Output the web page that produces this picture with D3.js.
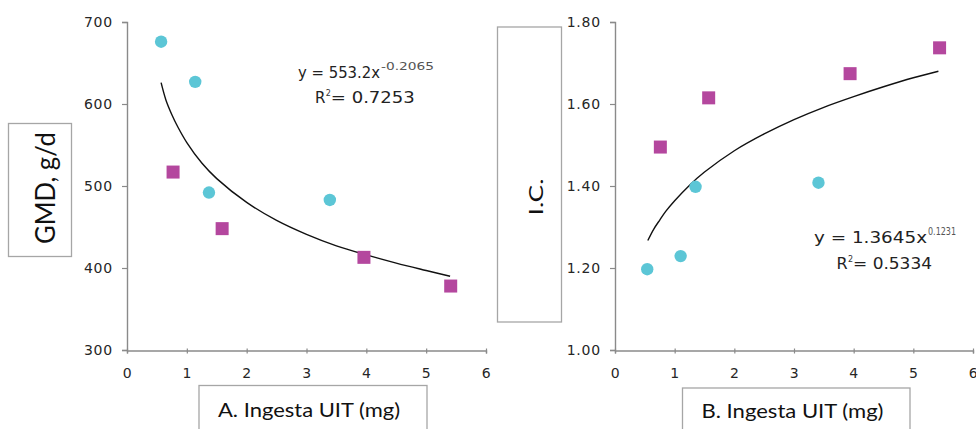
<!DOCTYPE html>
<html>
<head>
<meta charset="utf-8">
<script src="https://cdn.jsdelivr.net/npm/d3@7"></script>
<style>
  html, body { margin: 0; padding: 0; background: #fff; }
  svg { display: block; }
  .tk text { font-family: "DejaVu Sans", sans-serif; font-size: 14px; letter-spacing: 0.8px; fill: #262626; }
</style>
</head>
<body>
<svg id="chart" width="976" height="429"></svg>
<script>
// ---------- data ----------
const xTicks = [0, 1, 2, 3, 4, 5, 6];
const gmdTicks = [300, 400, 500, 600, 700];
const icTicks = [1.0, 1.2, 1.4, 1.6, 1.8];

// Panel A: GMD (g/d) vs UIT intake (mg)
const circleDoseA = [0.57, 1.14, 1.37, 3.39];
const circleGMD   = [676, 627, 492, 483];
const squareDoseA = [0.77, 1.59, 3.96, 5.41];
const squareGMD   = [517, 448, 413, 378];
const trendDoseA  = [0.57, 0.65, 0.75, 0.85, 1, 1.25, 1.5, 2, 2.5, 3, 3.5, 4, 4.5, 5, 5.4];
const trendGMD    = [626, 605, 587, 572, 553, 528, 509, 480, 458, 441, 427, 416, 406, 397, 390];

// Panel B: I.C. vs UIT intake (mg)
const circleDoseB = [0.54, 1.10, 1.35, 3.41];
const circleIC    = [1.197, 1.229, 1.398, 1.408];
const squareDoseB = [0.76, 1.57, 3.94, 5.44];
const squareIC    = [1.495, 1.615, 1.674, 1.737];
const trendDoseB  = [0.55, 0.65, 0.75, 0.85, 1, 1.25, 1.5, 2, 2.5, 3, 3.5, 4, 4.5, 5, 5.42];
const trendIC     = [1.267, 1.295, 1.317, 1.338, 1.364, 1.402, 1.434, 1.486, 1.527, 1.562, 1.592, 1.618, 1.642, 1.664, 1.680];

const eqA = { main: "y = 553.2x", sup: "-0.2065", r: "R", r2: "2", rval: "= 0.7253" };
const eqB = { main: "y = 1.3645x", sup: "0.1231", r: "R", r2: "2", rval: "= 0.5334" };
const yLabelA = "GMD, g/d", xLabelA = "A. Ingesta UIT (mg)";
const yLabelB = "I.C.", xLabelB = "B. Ingesta UIT (mg)";

// ---------- drawing ----------
const svg = d3.select("#chart");
const CYAN = "#5cc6d6", MAGENTA = "#b4479e", AXIS = "#8a8a8a", BOX = "#a6a6a6";
const tickFont = "DejaVu Sans, sans-serif";
const labelFont = "Lato, Open Sans, sans-serif";

function panel(o) {
  const x = d3.scaleLinear().domain([0, 6]).range(o.xRange);
  const y = d3.scaleLinear().domain(o.yDomain).range([350, 22]);
  const g = svg.append("g");

  // y axis
  const ya = g.append("g").attr("class", "tk").attr("transform", `translate(${o.xRange[0]},0)`)
    .call(d3.axisLeft(y).tickValues(o.yTicks).tickSize(5).tickPadding(9).tickFormat(o.yFmt));
  // x axis
  const xa = g.append("g").attr("class", "tk").attr("transform", `translate(0,350.5)`)
    .call(d3.axisBottom(x).tickValues(xTicks).tickSize(3).tickPadding(15).tickFormat(d3.format("d")));
  [ya, xa].forEach(a => {
    a.attr("font-family", tickFont).attr("font-size", 14);
    a.select(".domain").attr("stroke", AXIS).attr("stroke-width", 1.4);
    a.selectAll(".tick line").attr("stroke", AXIS).attr("stroke-width", 1.2);
  });
  xa.selectAll(".tick line").attr("y1", -2);

  // trend line
  const line = d3.line().x(d => x(d[0])).y(d => y(d[1])).curve(d3.curveCatmullRom);
  g.append("path").datum(d3.zip(o.trendX, o.trendY))
    .attr("d", line).attr("fill", "none").attr("stroke", "#111").attr("stroke-width", 1.4);

  // circles
  g.selectAll("circle.pt").data(d3.zip(o.cx, o.cy)).join("circle")
    .attr("class", "pt").attr("cx", d => x(d[0])).attr("cy", d => y(d[1]))
    .attr("r", 6.2).attr("fill", CYAN);
  // squares
  g.selectAll("rect.pt").data(d3.zip(o.sx, o.sy)).join("rect")
    .attr("class", "pt").attr("x", d => x(d[0]) - 6.5).attr("y", d => y(d[1]) - 6.5)
    .attr("width", 13).attr("height", 13).attr("fill", MAGENTA);

  // equation
  const e = o.eq;
  g.append("text").attr("x", o.eqPos.x).attr("y", o.eqPos.y)
    .attr("font-family", tickFont).attr("font-size", o.eqSize).attr("fill", "#222")
    .attr("textLength", o.eqPos.w).attr("lengthAdjust", "spacingAndGlyphs").text(e.main);
  g.append("text").attr("x", o.eqPos.x + o.eqPos.w + 1).attr("y", o.eqPos.y - 8)
    .attr("font-family", tickFont).attr("font-size", 10).attr("fill", "#555")
    .attr("textLength", o.eqPos.sw).attr("lengthAdjust", "spacingAndGlyphs").text(e.sup);
  g.append("text").attr("x", o.rPos.x).attr("y", o.rPos.y)
    .attr("font-family", tickFont).attr("font-size", o.eqSize).attr("fill", "#222").text(e.r);
  g.append("text").attr("x", o.rPos.x + o.eqSize * 0.72).attr("y", o.rPos.y - 7)
    .attr("font-family", tickFont).attr("font-size", 8).attr("fill", "#333").text(e.r2);
  g.append("text").attr("x", o.rPos.x + o.eqSize * 0.72 + 5).attr("y", o.rPos.y)
    .attr("font-family", tickFont).attr("font-size", o.eqSize).attr("fill", "#222")
    .attr("textLength", o.rPos.w).attr("lengthAdjust", "spacingAndGlyphs").text(e.rval);

  // y label box
  const yb = o.yBox;
  g.append("rect").attr("x", yb.x).attr("y", yb.y).attr("width", yb.w).attr("height", yb.h)
    .attr("fill", "#fff").attr("stroke", BOX).attr("stroke-width", 1.3);
  g.append("text").attr("transform", `translate(${yb.tx},${yb.ty}) rotate(-90)`)
    .attr("text-anchor", "middle").attr("font-family", labelFont).attr("font-size", yb.fs)
    .attr("fill", "#111").attr("textLength", yb.tl).attr("lengthAdjust", "spacingAndGlyphs").text(o.yLabel);

  // x label box
  const xb = o.xBox;
  g.append("rect").attr("x", xb.x).attr("y", xb.y).attr("width", xb.w).attr("height", 60)
    .attr("fill", "#fff").attr("stroke", BOX).attr("stroke-width", 1.3);
  g.append("text").attr("x", xb.tx).attr("y", xb.ty).attr("text-anchor", "middle")
    .attr("font-family", labelFont).attr("font-size", 19).attr("fill", "#111")
    .attr("textLength", 182).attr("lengthAdjust", "spacingAndGlyphs").text(o.xLabel);
}

panel({
  xRange: [127, 486], yDomain: [300, 700], yTicks: gmdTicks, yFmt: d3.format("d"),
  trendX: trendDoseA, trendY: trendGMD, cx: circleDoseA, cy: circleGMD, sx: squareDoseA, sy: squareGMD,
  eq: eqA, eqSize: 15, eqPos: { x: 298, y: 78, w: 82, sw: 53 }, rPos: { x: 315, y: 102.5, w: 84 },
  yLabel: yLabelA, yBox: { x: 8.5, y: 123.5, w: 63, h: 133, tx: 55, ty: 188, fs: 26, tl: 112 },
  xLabel: xLabelA, xBox: { x: 199, y: 385.5, w: 228, tx: 309, ty: 417 }
});

panel({
  xRange: [615, 973], yDomain: [1.0, 1.8], yTicks: icTicks, yFmt: d3.format(".2f"),
  trendX: trendDoseB, trendY: trendIC, cx: circleDoseB, cy: circleIC, sx: squareDoseB, sy: squareIC,
  eq: eqB, eqSize: 16, eqPos: { x: 814, y: 243, w: 113, sw: 28 }, rPos: { x: 836.5, y: 268.5, w: 79 },
  yLabel: yLabelB, yBox: { x: 497.5, y: 27, w: 64, h: 295, tx: 543, ty: 197, fs: 20, tl: 37 },
  xLabel: xLabelB, xBox: { x: 682.5, y: 388, w: 227.5, tx: 792.5, ty: 418 }
});
</script>
</body>
</html>
